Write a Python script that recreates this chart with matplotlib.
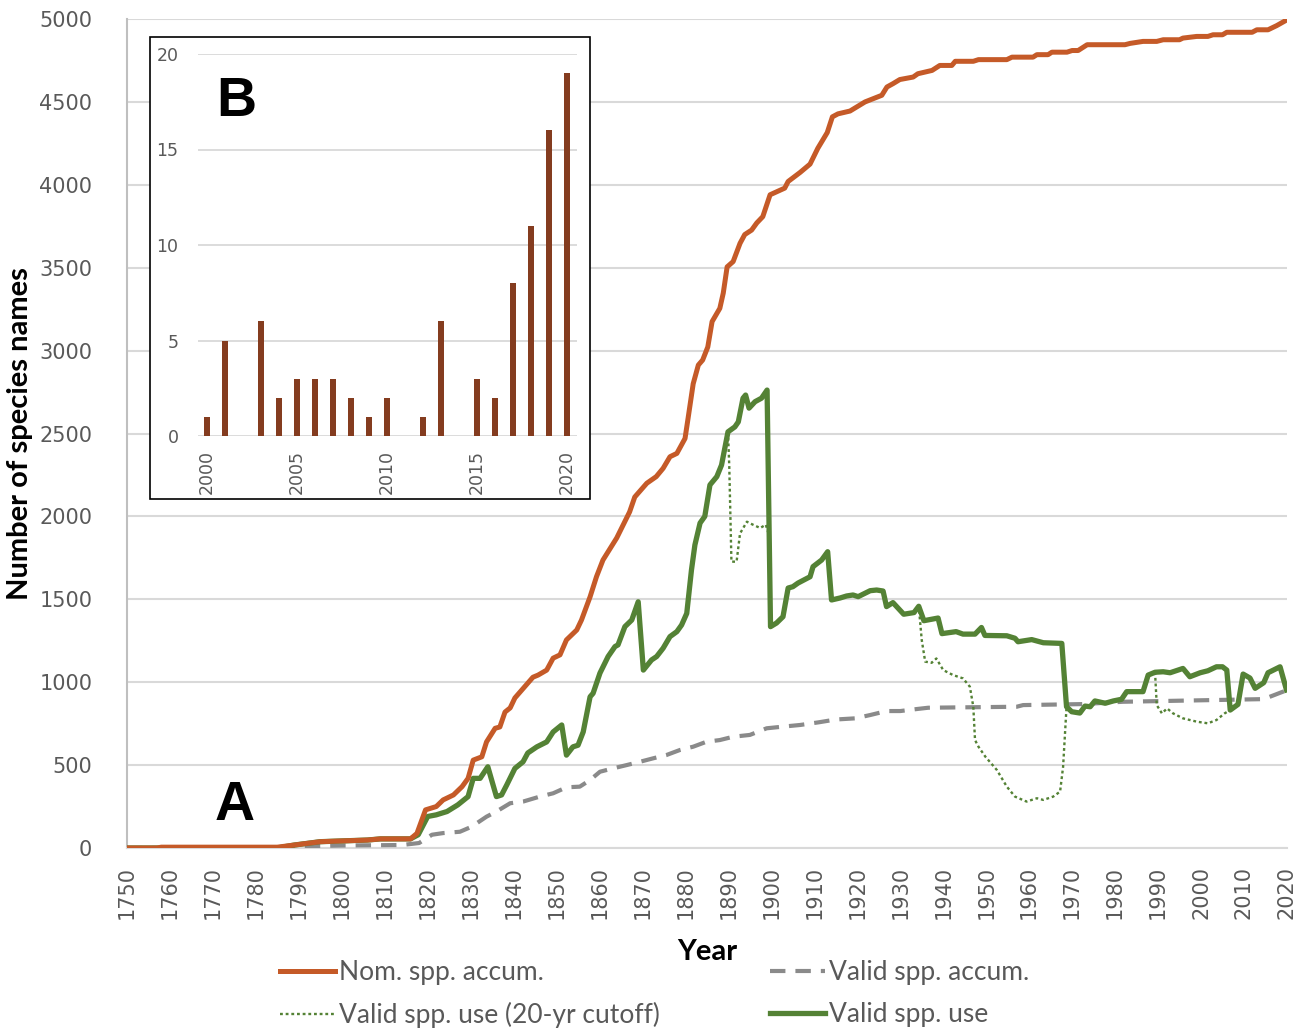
import numpy as np
import matplotlib.pyplot as plt
from matplotlib.patches import Rectangle

# nominal species names, accumulated
nom_years = [1750, 1757, 1758, 1785, 1789, 1795, 1806, 1809, 1816, 1817.5, 1819.5, 1822, 1823.6, 1826,
             1828, 1829.4, 1830.6, 1832.6, 1833.7, 1835.7, 1836.8, 1838, 1839.2, 1840.3, 1844.5, 1845.7,
             1847.7, 1849.2, 1850.8, 1852.3, 1854.7, 1855.8, 1857.8, 1859.3, 1860.8, 1864, 1867, 1868.2,
             1871, 1873.2, 1874.8, 1876.4, 1878, 1879.9, 1880.6, 1881.8, 1883, 1884, 1885.2, 1886.2, 1888,
             1888.8, 1889.7, 1891.1, 1892.7, 1893.8, 1895.4, 1896.6, 1898, 1899.7, 1903.1, 1903.9, 1906.7,
             1909, 1910.8, 1913, 1914.2, 1915.5, 1918.3, 1921.8, 1925.7, 1926.9, 1928.3, 1929.9, 1933,
             1934.1, 1937.4, 1939.2, 1942, 1942.8, 1947, 1948.2, 1954.8, 1956, 1960.9, 1961.8, 1964.4,
             1965.3, 1968.8, 1970, 1971.4, 1973.5, 1982.3, 1983.5, 1986.5, 1989.7, 1991.2, 1995, 1995.8,
             1999, 2001.6, 2002.8, 2005, 2006, 2011.9, 2013, 2015.6, 2017.6, 2020]
nom_vals = [0, 0, 5, 5, 18, 38, 48, 55, 55, 88, 230, 250, 290, 320,
            370, 420, 530, 550, 640, 722, 730, 820, 845, 905, 1030, 1043,
            1073, 1145, 1165, 1255, 1315, 1375, 1515, 1637, 1737, 1870, 2027, 2117,
            2200, 2240, 2290, 2360, 2380, 2470, 2590, 2800, 2913, 2943, 3022, 3175, 3255,
            3347, 3505, 3537, 3647, 3700, 3727, 3770, 3808, 3940, 3980, 4020, 4075,
            4125, 4220, 4315, 4410, 4428, 4445, 4500, 4540, 4590, 4610, 4635, 4650,
            4670, 4690, 4720, 4720, 4745, 4745, 4755, 4755, 4770, 4770, 4785, 4785,
            4800, 4800, 4810, 4810, 4845, 4845, 4853, 4865, 4865, 4875, 4875, 4885,
            4895, 4895, 4905, 4905, 4920, 4920, 4935, 4935, 4960, 4995]

# valid species, accumulated
acc_years = [1750, 1785, 1790, 1800, 1814, 1818, 1821, 1823.6, 1827.5, 1830.2, 1833.7, 1836, 1839.2,
             1842.2, 1846.1, 1849.2, 1852.3, 1855.4, 1857.8, 1860.1, 1863.1, 1866.3, 1869.4, 1872.5,
             1875.6, 1878.7, 1881.8, 1884.9, 1888, 1891.1, 1895, 1898.9, 1902.7, 1906.7, 1911, 1915,
             1919.5, 1923, 1926.8, 1930, 1933.8, 1936.5, 1957.1, 1958.6, 1972.5, 1981.8, 2014.6, 2019.1, 2020]
acc_vals = [0, 0, 10, 15, 18, 30, 80, 90, 98, 128, 189, 220, 270,
            280, 310, 330, 366, 370, 410, 460, 480, 500, 520, 541,
            561, 591, 611, 641, 651, 671, 682, 722, 732, 742, 758, 775,
            782, 802, 826, 826, 838, 846, 852, 862, 868, 882, 898, 943, 950]

# valid species in use
use_years = [1750, 1785, 1789, 1795, 1806, 1809, 1816, 1817.8, 1820, 1822, 1824.5, 1827, 1829.4,
             1830.6, 1832.2, 1834, 1836, 1837.2, 1838.4, 1840.3, 1842.2, 1843.3, 1845.4, 1847.7,
             1849.2, 1851.2, 1852.3, 1853.8, 1855, 1856.2, 1857.8, 1858.5, 1860.1, 1862, 1863.6,
             1864.3, 1865.9, 1867.5, 1869, 1870.2, 1872.1, 1873.3, 1874.8, 1876.4, 1878, 1879.1,
             1880.3, 1881.4, 1882.2, 1883.4, 1884.5, 1885.7, 1887.3, 1888.4, 1889.9, 1891.5, 1892.3,
             1893.4, 1894, 1894.8, 1896.2, 1897.7, 1899, 1899.8, 1901.2, 1902.7, 1903.9, 1905, 1906.2,
             1909, 1909.7, 1911.7, 1913.1, 1914, 1916, 1917.5, 1919, 1920.2, 1923, 1924.5, 1926,
             1926.8, 1928.3, 1930.8, 1933.2, 1934.3, 1935.5, 1938.8, 1939.7, 1943, 1944.6, 1947.4,
             1948.9, 1949.7, 1954.8, 1956.7, 1957.4, 1960.6, 1963.3, 1967.6, 1968.7, 1969.9, 1971.8,
             1973, 1974.2, 1975.3, 1977.7, 1979.6, 1981.5, 1982.7, 1986.5, 1987.7, 1989.3, 1991.2,
             1992.8, 1995.8, 1997.4, 1999.8, 2001.6, 2003.6, 2005, 2006, 2006.8, 2008.6, 2009.8,
             2011.4, 2012.6, 2014.6, 2015.6, 2018.4, 2019.9]
use_vals = [0, 0, 18, 38, 48, 55, 55, 80, 190, 200, 220, 260, 310,
            420, 420, 490, 310, 320, 380, 480, 520, 573, 610, 640,
            700, 742, 560, 610, 620, 700, 912, 933, 1055, 1155, 1215,
            1225, 1335, 1375, 1485, 1073, 1134, 1155, 1205, 1275, 1305, 1345,
            1415, 1677, 1828, 1960, 2000, 2190, 2240, 2310, 2510, 2540, 2570,
            2713, 2732, 2653, 2692, 2713, 2762, 1335, 1357, 1395, 1568, 1576, 1598,
            1636, 1697, 1737, 1787, 1496, 1508, 1520, 1526, 1516, 1552, 1556, 1550,
            1456, 1480, 1410, 1420, 1458, 1371, 1387, 1293, 1305, 1290, 1290,
            1330, 1282, 1280, 1265, 1244, 1257, 1238, 1234, 852, 822, 814,
            856, 852, 887, 873, 887, 897, 943, 943, 1043, 1060, 1063,
            1057, 1083, 1033, 1057, 1069, 1093, 1093, 1073, 832, 866, 1049,
            1025, 963, 997, 1057, 1093, 953]

# 20-yr cutoff: only where it departs from "valid spp. use"
cut_years = [1890.2, 1890.7, 1891.9, 1892.7, 1894.3, 1895.7, 1897.4, 1898.7, 1899.3,
             1935, 1935.8, 1937.3, 1938.4, 1940, 1942.3, 1944.6, 1946.2, 1947, 1947.4, 1948.2,
             1949.8, 1952.5, 1954.8, 1956.7, 1959.4, 1961.8, 1963.3, 1965.6, 1967.2, 1967.9,
             1989.7, 1990.9, 1992.1, 1993.5, 1995.8, 1999, 2001.6, 2003.6, 2005.5]
cut_vals = [2300, 1727, 1727, 1897, 1968, 1950, 1930, 1950, 1900,
            1254, 1124, 1117, 1143, 1073, 1043, 1023, 973, 852, 651, 611,
            551, 470, 370, 310, 280, 300, 290, 310, 340, 490,
            862, 812, 842, 812, 782, 762, 752, 772, 812]
cut_spans = [(1889.9, 1899.8), (1934.3, 1968.7), (1989.3, 2006.8)]

# inset B: names per year 2000-2020
bar_years = list(range(2000, 2021))
bar_vals = [1, 5, 0, 6, 2, 3, 3, 3, 2, 1, 2, 0, 1, 6, 0, 3, 2, 8, 11, 16, 19]

orange = '#c55a28'
green = '#548235'
grey = '#8a8a8a'
txt = '#595959'
narrow = ['Lato', 'DejaVu Sans']

# build the full cutoff series
cy, cv = [], []
for y, v in zip(use_years, use_vals):
    if not any(a < y < b for a, b in cut_spans):
        cy.append(y)
        cv.append(v)
cy += cut_years
cv += cut_vals
order = np.argsort(cy)
cy = np.array(cy)[order]
cv = np.array(cv)[order]

fig = plt.figure(figsize=(13.06, 10.28), dpi=100)
ax = fig.add_axes([0.0972, 0.1751, 0.8882, 0.8064])

ax.plot(acc_years, acc_vals, color=grey, lw=3, linestyle=(0, (3.7, 2.4)), zorder=3,
        label='Valid spp. accum.')
ax.plot(cy, cv, color=green, lw=1.7, linestyle=(0, (1.2, 1.2)), zorder=4,
        label='Valid spp. use (20-yr cutoff)')
ax.plot(use_years, use_vals, color=green, lw=3.8, zorder=5, label='Valid spp. use')
ax.plot(nom_years, nom_vals, color=orange, lw=3.6, zorder=6, label='Nom. spp. accum.')

ax.set_xlim(1750, 2020)
ax.set_ylim(0, 5000)
ax.set_xticks(range(1750, 2021, 10))
ax.set_xticks(range(1800, 2021, 50), minor=True)
ax.set_yticks(range(0, 5001, 500))
ax.tick_params(axis='x', which='both', length=0, labelrotation=90, labelsize=15, labelcolor=txt, pad=13)
ax.tick_params(axis='y', length=0, labelsize=15, labelcolor=txt, pad=25)
ax.grid(axis='y', color='#d9d9d9', lw=1.5)
ax.grid(axis='x', which='minor', color='#d9d9d9', lw=1.5)
for s in ['top', 'right']:
    ax.spines[s].set_visible(False)
ax.spines['left'].set_color('#bfbfbf')
ax.spines['bottom'].set_color('#d9d9d9')
ax.spines['left'].set_linewidth(1.5)
ax.spines['bottom'].set_linewidth(1.5)
ax.set_axisbelow(True)

ax.set_xlabel('Year', fontsize=21, fontweight='bold', family=narrow, labelpad=14)
ax.set_ylabel('Number of species names', fontsize=21, fontweight='bold', family=narrow)
ax.yaxis.set_label_coords(-0.081, 0.5)

fig.text(235 / 1306, 1 - 806 / 1028, 'A', fontsize=40, fontweight='bold', ha='center', va='center',
         family='Liberation Sans')

# legend under the chart
h, l = ax.get_legend_handles_labels()
hd = dict(zip(l, h))
names = ['Nom. spp. accum.', 'Valid spp. use (20-yr cutoff)', 'Valid spp. accum.', 'Valid spp. use']
leg = fig.legend([hd[n] for n in names], names, ncol=2, loc='upper left',
                 bbox_to_anchor=(280 / 1306, 1 - 960 / 1028), frameon=False,
                 prop={'family': narrow, 'size': 19}, handlelength=2.1, handletextpad=0.15,
                 columnspacing=4.15, labelspacing=0.65, borderaxespad=0, borderpad=0)
for t in leg.get_texts():
    t.set_color(txt)

# inset B
fig.patches.append(Rectangle((150 / 1306, 1 - 499 / 1028), 440 / 1306, 462 / 1028,
                             transform=fig.transFigure, facecolor='white', edgecolor='black',
                             lw=1.2, zorder=10))
ins = fig.add_axes([198 / 1306, 1 - 436 / 1028, 379 / 1306, 382 / 1028], zorder=11)
ins.patch.set_alpha(0)
ins.bar(bar_years, bar_vals, width=0.33, color='#843c1f', zorder=3)
ins.set_xlim(1999.5, 2020.55)
ins.set_ylim(0, 20)
ins.set_yticks(range(0, 21, 5))
ins.set_xticks(range(2000, 2021, 5))
ins.tick_params(axis='x', length=0, labelrotation=90, labelsize=12.5, labelcolor=txt, pad=10)
ins.tick_params(axis='y', length=0, labelsize=12.5, labelcolor=txt, pad=14)
ins.grid(axis='y', color='#d9d9d9', lw=1.3)
for s in ins.spines.values():
    s.set_visible(False)
ins.set_axisbelow(True)
ins.text(0.1, 0.875, 'B', transform=ins.transAxes, fontsize=40, fontweight='bold',
         ha='center', va='center', family='Liberation Sans')

fig.savefig('out.png', dpi=100)
